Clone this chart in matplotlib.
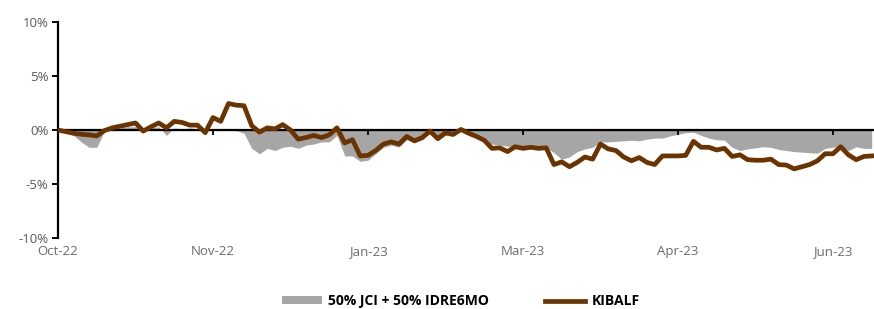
import numpy as np
import matplotlib
matplotlib.use('Agg')
import matplotlib.pyplot as plt
from matplotlib.ticker import FuncFormatter

# monthly labels along the category axis (one every 20 samples)
month_labels = ['Oct-22', 'Nov-22', 'Jan-23', 'Mar-23', 'Apr-23', 'Jun-23']

# cumulative return (%) of the fund
kibalf = [0.0, -0.15, -0.3, -0.4, -0.45, -0.55, -0.05, 0.2, 0.35, 0.5,
          0.65, -0.1, 0.3, 0.65, 0.2, 0.8, 0.7, 0.45, 0.45, -0.25,
          1.15, 0.8, 2.45, 2.3, 2.25, 0.4, -0.2, 0.2, 0.1, 0.5,
          0.0, -0.85, -0.7, -0.5, -0.7, -0.45, 0.2, -1.2, -0.9, -2.4,
          -2.35, -1.9, -1.3, -1.1, -1.3, -0.6, -1.0, -0.7, -0.1, -0.8,
          -0.25, -0.4, 0.05, -0.3, -0.6, -0.95, -1.7, -1.65, -2.0, -1.55,
          -1.7, -1.6, -1.7, -1.65, -3.2, -2.95, -3.4, -3.0, -2.5, -2.7,
          -1.3, -1.75, -1.9, -2.5, -2.85, -2.55, -3.0, -3.2, -2.4, -2.4,
          -2.4, -2.35, -1.05, -1.6, -1.6, -1.85, -1.7, -2.45, -2.3, -2.75,
          -2.8, -2.8, -2.7, -3.2, -3.25, -3.6, -3.4, -3.2, -2.85, -2.2,
          -2.2, -1.55, -2.3, -2.75, -2.45, -2.4]

# cumulative return (%) of the benchmark
bench = [0.0, -0.2, -0.5, -1.1, -1.6, -1.6, -0.1, 0.1, 0.2, 0.3,
         0.3, 0.0, 0.2, 0.3, -0.5, 0.2, 0.1, 0.2, 0.1, 0.0,
         0.0, 0.1, 0.0, -0.05, -0.3, -1.7, -2.2, -1.7, -1.9, -1.6,
         -1.5, -1.7, -1.4, -1.3, -1.1, -1.1, -0.5, -2.4, -2.4, -2.9,
         -2.8, -2.2, -1.6, -1.4, -1.6, -0.9, -1.2, -0.9, -0.3, -1.0,
         -0.5, -0.6, -0.1, -0.3, -0.6, -1.1, -1.3, -1.4, -1.5, -1.5,
         -1.5, -1.55, -1.6, -1.6, -2.1, -2.7, -2.5, -2.0, -1.75, -1.6,
         -1.1, -1.1, -1.05, -1.0, -0.95, -1.0, -0.85, -0.75, -0.75, -0.55,
         -0.4, -0.25, -0.2, -0.5, -0.75, -0.9, -0.95, -1.6, -1.9, -1.75,
         -1.65, -1.55, -1.6, -1.8, -1.9, -2.0, -2.05, -2.1, -2.15, -1.7,
         -1.6, -1.5, -1.9, -1.55, -1.7, -1.7]

plt.rcParams['font.family'] = ['Open Sans', 'DejaVu Sans']

x = np.arange(len(kibalf))
tick_pos = np.arange(len(month_labels)) * 20

fig = plt.figure(figsize=(8.74, 3.09), dpi=100)
ax = fig.add_axes([58 / 874, 71 / 309, 1 - 58 / 874, 216 / 309])

ax.fill_between(x, 0, bench, color='#a6a6a6', lw=0, label='50% JCI + 50% IDRE6MO')
ax.axhline(0, color='black', lw=1.6, zorder=2.5)
ax.plot(x, kibalf, color='#6b3300', lw=3.4, solid_joinstyle='round', label='KIBALF', zorder=3)

ax.set_xlim(0, 105.3)
ax.set_ylim(-10, 10)
ax.set_yticks([-10, -5, 0, 5, 10])
ax.yaxis.set_major_formatter(FuncFormatter(lambda v, p: '%d%%' % v))

for s in ['top', 'right', 'bottom']:
    ax.spines[s].set_visible(False)
ax.spines['left'].set_linewidth(1.6)
ax.tick_params(axis='y', length=4, width=1.4, labelsize=9.5, labelcolor='#595959', pad=3)

ax.set_xticks(tick_pos)
ax.set_xticklabels(month_labels)
ax.tick_params(axis='x', length=0, labelsize=9.5, labelcolor='#6b6b6b', pad=5)

# small upward ticks sitting on the zero line
zero = ax.secondary_xaxis(0.5)
zero.set_zorder(2.6)
zero.set_xticks(tick_pos)
zero.set_xticklabels([''] * len(tick_pos))
zero.tick_params(direction='in', length=3.5, width=1.3)
zero.spines['bottom'].set_visible(False)

fig.legend(loc='center', bbox_to_anchor=(0.527, 0.025), ncol=2, frameon=False,
           handlelength=2.9, handleheight=0.5, handletextpad=0.45, columnspacing=4.0,
           prop={'size': 10, 'weight': 'bold'})

fig.savefig('out.png', dpi=100)
